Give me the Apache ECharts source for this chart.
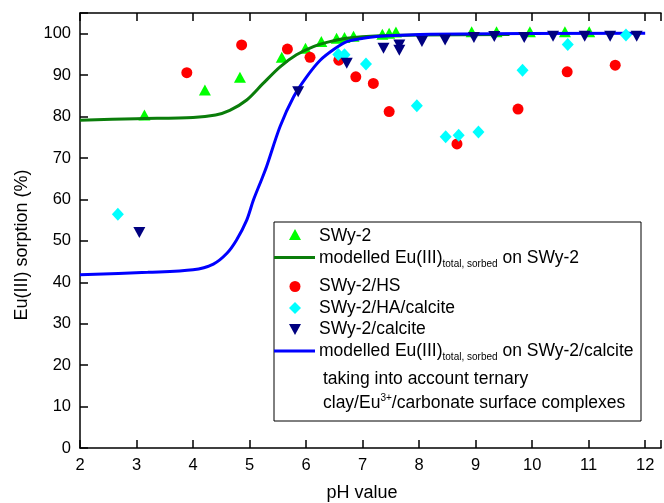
<!DOCTYPE html>
<html>
<head>
<meta charset="utf-8">
<script src="https://cdn.jsdelivr.net/npm/echarts@6/dist/echarts.min.js"></script>
<style>
  html, body { margin: 0; padding: 0; background: #fff; overflow: hidden; }
  #chart { width: 664px; height: 503px; }
</style>
</head>
<body>
<div id="chart"></div>
<script>
  // measured data (pH, sorption %)
  var swy2 = [[3.14, 80.4], [4.21, 86.4], [4.83, 89.5], [5.57, 94.3], [5.99, 96.5], [6.27, 98.1],
    [6.54, 98.9], [6.68, 99.1], [6.84, 99.4], [7.35, 99.9], [7.47, 100.1], [7.59, 100.4],
    [8.93, 100.5], [9.37, 100.5], [9.96, 100.5], [10.58, 100.5], [11.01, 100.5]];
  var swy2HS = [[3.89, 90.6], [4.86, 97.3], [5.67, 96.3], [6.07, 94.3], [6.58, 93.6], [6.88, 89.6],
    [7.19, 88.0], [7.47, 81.2], [8.67, 73.4], [9.75, 81.8], [10.62, 90.8], [11.47, 92.4]];
  var swy2HAcalcite = [[2.67, 56.4], [6.57, 95.0], [6.68, 94.9], [7.06, 92.7], [7.96, 82.6], [8.47, 75.1],
    [8.70, 75.5], [9.05, 76.3], [9.83, 91.2], [10.63, 97.4], [11.66, 99.7]];
  var swy2calcite = [[3.05, 52.0], [5.86, 86.0], [6.72, 92.9], [7.37, 96.5], [7.65, 97.3], [7.65, 96.0],
    [8.05, 98.1], [8.46, 98.5], [8.97, 99.1], [9.33, 99.3], [9.86, 99.1], [10.37, 99.4],
    [10.93, 99.4], [11.38, 99.4], [11.85, 99.4]];

  // model curves
  var modelSwy2 = [[2, 79.1], [3, 79.5], [4, 79.8], [4.4, 80.4], [4.65, 81.5], [4.95, 84.0], [5.24, 88.0],
    [5.54, 92.0], [5.83, 94.9], [6.13, 96.9], [6.42, 98.1], [6.72, 98.9], [7.31, 99.5], [8, 99.7], [9.6, 99.8]];
  var modelCalcite = [[2, 41.8], [3.2, 42.4], [4, 43.0], [4.36, 44.4], [4.6, 47.0], [4.77, 50.2], [4.95, 55.0],
    [5.07, 59.9], [5.21, 64.7], [5.3, 67.9], [5.54, 77.6], [5.78, 84.8], [6.01, 89.6], [6.25, 93.6],
    [6.5, 96.3], [6.72, 98.1], [7.01, 98.9], [7.31, 99.4], [8.2, 99.9], [12, 100.1]];

  var font = 'Liberation Sans, Arial, sans-serif';
  var chart = echarts.init(document.getElementById('chart'));

  var axisLine = { show: true, lineStyle: { color: '#000', width: 1.5 } };
  var axisTick = { show: true, inside: true, length: 8, lineStyle: { color: '#000', width: 1.5 } };

  var lx = 274, ly = 222;
  var fs = '17.5px ';
  var legendGraphics = [
    { type: 'rect', shape: { x: lx, y: ly, width: 367, height: 199 },
      style: { fill: '#fff', stroke: '#000', lineWidth: 1 }, z: 100 },
    { type: 'polygon', shape: { points: [[295, 229], [289, 240], [301, 240]] }, style: { fill: '#00ff00' }, z: 101 },
    { type: 'text', x: 319, y: 236, style: { text: 'SWy-2', font: fs + font, fill: '#000', verticalAlign: 'middle' }, z: 101 },
    { type: 'line', shape: { x1: 274, y1: 257.5, x2: 315, y2: 257.5 }, style: { stroke: '#0a7d0a', lineWidth: 3 }, z: 101 },
    { type: 'text', x: 319, y: 258, z: 101, style: {
      text: 'modelled Eu(III){s|total, sorbed} on SWy-2', font: fs + font, fill: '#000', verticalAlign: 'middle',
      rich: { s: { fontSize: 10, fontFamily: font, padding: [12, 0, 0, 0] } } } },
    { type: 'circle', shape: { cx: 295, cy: 286.5, r: 5.5 }, style: { fill: '#ff0000' }, z: 101 },
    { type: 'text', x: 319, y: 286, style: { text: 'SWy-2/HS', font: fs + font, fill: '#000', verticalAlign: 'middle' }, z: 101 },
    { type: 'polygon', shape: { points: [[295, 302], [301, 308], [295, 314], [289, 308]] }, style: { fill: '#00ffff' }, z: 101 },
    { type: 'text', x: 319, y: 308, style: { text: 'SWy-2/HA/calcite', font: fs + font, fill: '#000', verticalAlign: 'middle' }, z: 101 },
    { type: 'polygon', shape: { points: [[289, 324], [301, 324], [295, 335]] }, style: { fill: '#000080' }, z: 101 },
    { type: 'text', x: 319, y: 329, style: { text: 'SWy-2/calcite', font: fs + font, fill: '#000', verticalAlign: 'middle' }, z: 101 },
    { type: 'line', shape: { x1: 274, y1: 351, x2: 315, y2: 351 }, style: { stroke: '#0000ff', lineWidth: 3 }, z: 101 },
    { type: 'text', x: 319, y: 351, z: 101, style: {
      text: 'modelled Eu(III){s|total, sorbed} on SWy-2/calcite', font: fs + font, fill: '#000', verticalAlign: 'middle',
      rich: { s: { fontSize: 10, fontFamily: font, padding: [12, 0, 0, 0] } } } },
    { type: 'text', x: 323, y: 379, style: { text: 'taking into account ternary', font: fs + font, fill: '#000', verticalAlign: 'middle' }, z: 101 },
    { type: 'text', x: 323, y: 403, z: 101, style: {
      text: 'clay/Eu{p|3+}/carbonate surface complexes', font: fs + font, fill: '#000', verticalAlign: 'middle',
      rich: { p: { fontSize: 10, fontFamily: font, padding: [0, 0, 10, 0] } } } },
    // axis titles
    { type: 'text', x: 362, y: 493, style: { text: 'pH value', font: '18px ' + font, fill: '#000', align: 'center', verticalAlign: 'middle' } },
    { type: 'text', x: 22, y: 245, rotation: Math.PI / 2,
      style: { text: 'Eu(III) sorption (%)', font: '18px ' + font, fill: '#000', align: 'center', verticalAlign: 'middle' } }
  ];

  // the right side of the plot box is cut off in the original picture
  var option = {
    animation: false,
    backgroundColor: '#fff',
    grid: { left: 80, right: 0, top: 13, bottom: 55, containLabel: false },
    xAxis: [{
      type: 'value', min: 2, max: 12.28, interval: 1, position: 'bottom',
      axisLine: axisLine, axisTick: axisTick, splitLine: { show: false },
      axisLabel: { color: '#000', fontSize: 16.5, fontFamily: font, margin: 9,
        formatter: function (v) { return v <= 12 ? v : ''; } }
    }, {
      type: 'value', min: 2, max: 12.28, interval: 1, position: 'top',
      axisLine: axisLine, axisTick: axisTick, splitLine: { show: false }, axisLabel: { show: false }
    }],
    yAxis: [{
      type: 'value', min: 0, max: 105, interval: 10, position: 'left',
      axisLine: axisLine, axisTick: axisTick, splitLine: { show: false },
      axisLabel: { color: '#000', fontSize: 16.5, fontFamily: font, margin: 9,
        formatter: function (v) { return v <= 100 ? v : ''; } }
    }],
    series: [
      { name: 'modelled SWy-2', type: 'line', data: modelSwy2, smooth: 0.3, showSymbol: false,
        lineStyle: { color: '#0a7d0a', width: 3 }, z: 3 },
      { name: 'modelled SWy-2/calcite', type: 'line', data: modelCalcite, smooth: 0.3, showSymbol: false,
        lineStyle: { color: '#0000ff', width: 3 }, z: 3 },
      { name: 'SWy-2/HS', type: 'scatter', data: swy2HS, symbol: 'circle', symbolSize: 11,
        itemStyle: { color: '#ff0000', opacity: 1 }, z: 4 },
      { name: 'SWy-2/HA/calcite', type: 'scatter', data: swy2HAcalcite, symbol: 'diamond', symbolSize: [12, 13],
        itemStyle: { color: '#00ffff', opacity: 1 }, z: 4 },
      { name: 'SWy-2', type: 'scatter', data: swy2, symbol: 'triangle', symbolSize: [12, 11],
        itemStyle: { color: '#00ff00', opacity: 1 }, z: 2 },
      { name: 'SWy-2/calcite', type: 'scatter', data: swy2calcite, symbol: 'triangle', symbolRotate: 180, symbolSize: [12, 11],
        itemStyle: { color: '#000080', opacity: 1 }, z: 5 }
    ],
    graphic: legendGraphics
  };

  chart.setOption(option);
  window.addEventListener('resize', function () { chart.resize(); });
</script>
</body>
</html>
